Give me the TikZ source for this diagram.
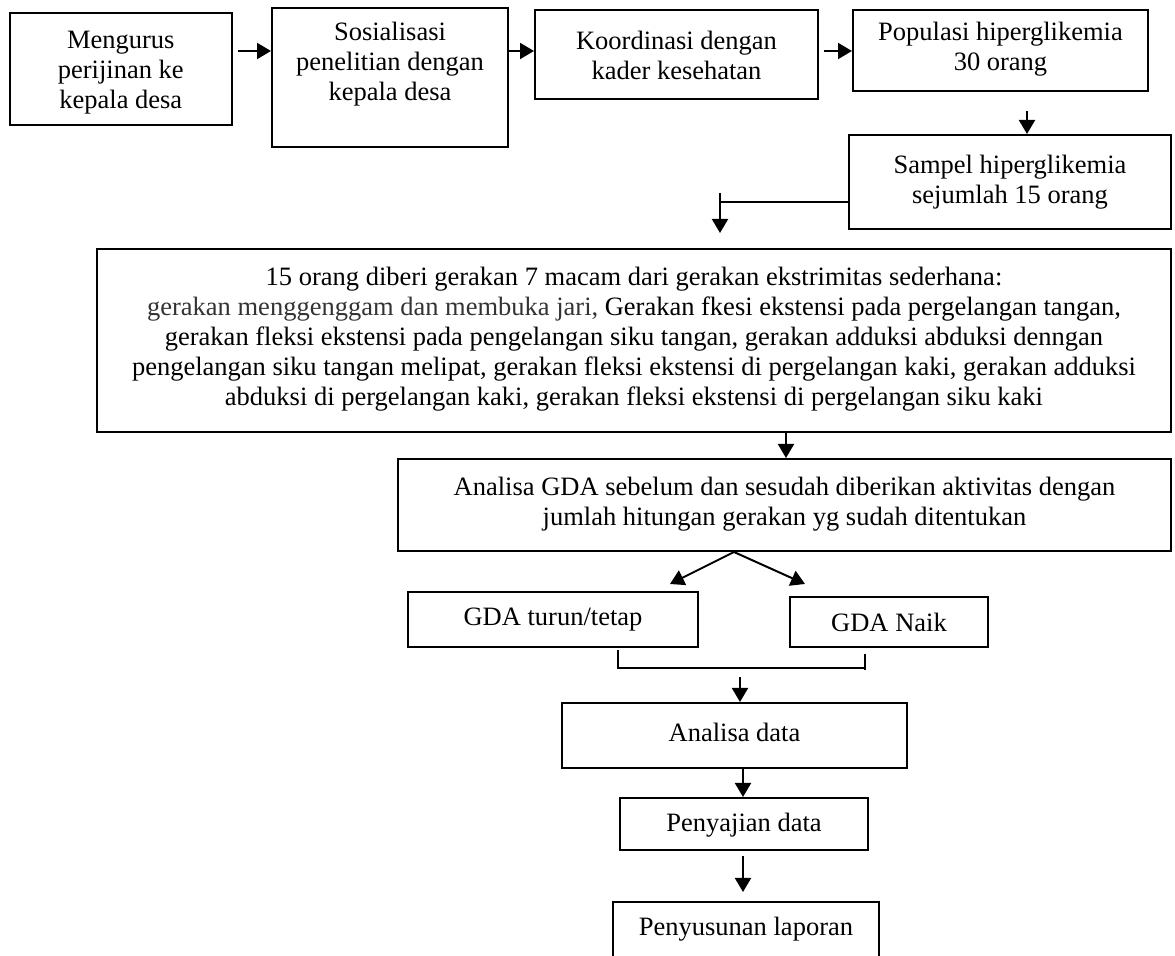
\documentclass[tikz,border=0pt]{standalone}
\usepackage{fontspec}
\setmainfont{Liberation Serif}
\usetikzlibrary{arrows.meta,fit,calc}
\newcommand{\fs}{\fontsize{13.25pt}{15pt}\selectfont}
\definecolor{txtgray}{HTML}{333333}
\tikzset{
  box/.style={draw, line width=1pt, inner sep=0pt},
  txt/.style={inner sep=0pt, align=center, font=\fs},
  arr/.style={line width=1pt, -{Triangle[length=7pt,width=8pt]}},
  ln/.style={line width=1pt},
}
\begin{document}
\begin{tikzpicture}[x=0.5pt,y=-0.5pt]
\useasboundingbox (0,0) rectangle (1175,956);
\clip (0,0) rectangle (1175,956);
% top row
\node[box, fit={(9.6,13) (232,125)}] (A) {};
\node[txt] (At) at ($(A.center)+(0,4)$) {Mengurus\\perijinan ke\\kepala desa};
\node[box, fit={(272,8) (508,147)}] (B) {};
\node[txt] (Bt) at ($(B.center)+(0,-13.5)$) {Sosialisasi\\penelitian dengan\\kepala desa};
\node[box, fit={(535,10) (818,99)}] (C) {};
\node[txt] (Ct) at ($(C.center)+(0,1)$) {Koordinasi dengan\\kader kesehatan};
\node[box, fit={(853,10) (1148,91)}] (D) {};
\node[txt] (Dt) at ($(D.center)+(0,-1)$) {Populasi hiperglikemia\\30 orang};
\node[box, fit={(849,135) (1171,229)}] (E) {};
\node[txt] (Et) at (E.center) {Sampel hiperglikemia\\sejumlah 15 orang};
\coordinate (r) at (0,51);
\draw[arr] ($(A.east |- r)+(5,0)$) -- (B.west |- r);
\draw[arr] (B.east |- r) -- (C.west |- r);
\draw[arr] ($(C.east |- r)+(5,0)$) -- (D.west |- r);
\coordinate (dx) at (1027,0);
\draw[arr] ($(D.south -| dx)+(0,19)$) -- (E.north -| dx);
% big box
\node[box, fit={(97,249) (1171,432)}] (F) {};
\node[txt] (Ft) at ($(F.center)+(0,-1)$) {15 orang diberi gerakan 7 macam dari gerakan ekstrimitas sederhana:\\
\textcolor{txtgray}{gerakan menggenggam dan membuka jari,} Gerakan fkesi ekstensi pada pergelangan tangan,\\
gerakan fleksi ekstensi pada pengelangan siku tangan, gerakan adduksi abduksi denngan\\
pengelangan siku tangan melipat, gerakan fleksi ekstensi di pergelangan kaki, gerakan adduksi\\
abduksi di pergelangan kaki, gerakan fleksi ekstensi di pergelangan siku kaki};
\coordinate (k1) at (720,202);
\draw[ln] (E.west |- k1) -- (k1);
\draw[arr] ($(k1)+(0,-9)$) -- ($(F.north -| k1)+(0,-15)$);
% analisa GDA
\node[box, fit={(398,459) (1171,551)}] (G) {};
\node[txt] (Gt) at ($(G.center)+(0,-1)$) {Analisa GDA sebelum dan sesudah diberikan aktivitas dengan\\jumlah hitungan gerakan yg sudah ditentukan};
\coordinate (fx) at (786,0);
\draw[arr] (F.south -| fx) -- (G.north -| fx);
\node[box, fit={(408,592) (698,647)}] (H) {};
\node[txt] (Ht) at (H.center) {GDA turun/tetap};
\node[box, fit={(790,597) (988,647)}] (I) {};
\node[txt] (It) at (I.center) {GDA Naik};
\coordinate (gs) at (734,0);
\draw[arr] (G.south -| gs) -- ($(H.north)+(117,-7)$);
\draw[arr] (G.south -| gs) -- ($(I.north)+(-84,-12)$);
% bracket
\coordinate (bl) at (618,668);
\coordinate (br) at (865,668);
\draw[ln] ($(H.south -| bl)+(0,2)$) -- (bl) -- (br);
\draw[ln] ($(I.south -| br)+(0,6)$) -- ($(br)+(0,2)$);
% lower chain
\node[box, fit={(562,703) (907,768)}] (J) {};
\node[txt] (Jt) at ($(J.center)+(0,-3)$) {Analisa data};
\coordinate (jx) at (740,0);
\draw[arr] ($(bl -| jx)+(0,9)$) -- (J.north -| jx);
\node[box, fit={(620,798) (868,850)}] (K) {};
\node[txt] (Kt) at ($(K.center)+(0,1)$) {Penyajian data};
\coordinate (kx) at (743,0);
\draw[arr] (J.south -| kx) -- (K.north -| kx);
\node[box, fit={(613,902) (879,960)}] (L) {};
\node[txt] (Lt) at ($(L.north)+(0,28)$) {Penyusunan laporan};
\draw[arr] ($(K.south -| kx)+(0,5)$) -- ($(L.north -| kx)+(0,-9)$);
\end{tikzpicture}
\end{document}
